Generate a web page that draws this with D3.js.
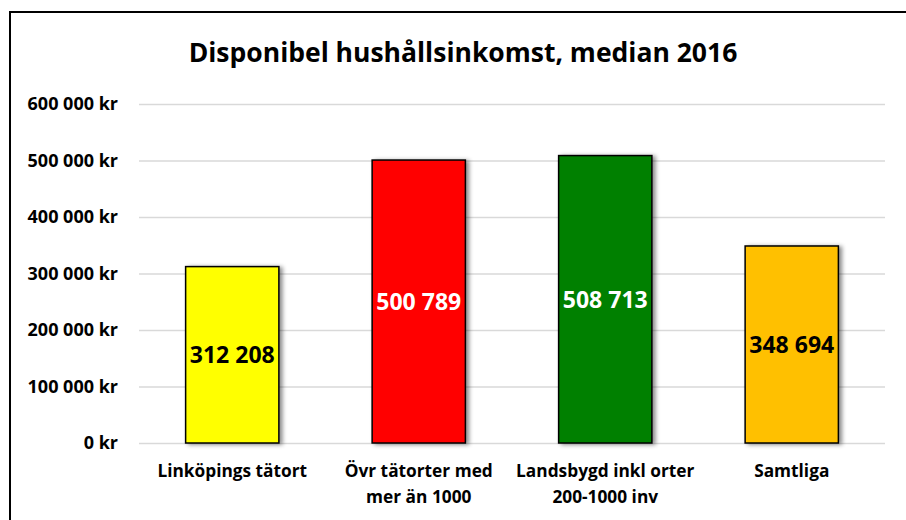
<!DOCTYPE html>
<html>
<head>
<meta charset="utf-8">
<script src="https://cdn.jsdelivr.net/npm/d3@7"></script>
<style>
  body { margin: 0; background: #fff; }
  svg { display: block; font-family: 'Open Sans', sans-serif; font-weight: bold; }
</style>
</head>
<body>
<svg id="chart"></svg>
<script>
const TITLE = 'Disponibel hushållsinkomst, median 2016'
const CATEGORIES = [
    ['Linköpings tätort'],
    ['Övr tätorter med', 'mer än 1000'],
    ['Landsbygd inkl orter', '200-1000 inv'],
    ['Samtliga']
]
const VALUES = [312208, 500789, 508713, 348694]
const BAR_COLORS = ['#ffff00', '#ff0000', '#008000', '#ffc000']
const LABEL_COLORS = ['#000', '#fff', '#fff', '#000']
const TICKS = [0, 100000, 200000, 300000, 400000, 500000, 600000]

const width = 906
const height = 520
const margin = { top: 104, right: 21, bottom: 77, left: 139 }

const fmt = v => d3.format(',')(v).replace(/,/g, ' ')

const svg = d3.select('#chart')
    .attr('width', width)
    .attr('height', height)

const defs = svg.append('defs')
const shadow = defs.append('filter')
    .attr('id', 'shadow')
    .attr('x', '-20%').attr('y', '-20%')
    .attr('width', '140%').attr('height', '140%')
shadow.append('feDropShadow')
    .attr('dx', 3)
    .attr('dy', 1)
    .attr('stdDeviation', 2)
    .attr('flood-color', '#000')
    .attr('flood-opacity', 0.45)

// chart frame, runs off the right and bottom edge like the original
svg.append('rect')
    .attr('x', 10)
    .attr('y', 12)
    .attr('width', 1000)
    .attr('height', 700)
    .attr('fill', 'none')
    .attr('stroke', '#000')
    .attr('stroke-width', 2)

svg.append('text')
    .attr('x', 463)
    .attr('y', 62)
    .attr('text-anchor', 'middle')
    .style('font-size', '26.5px')
    .text(TITLE)

const x = d3.scaleBand()
    .domain(d3.range(VALUES.length))
    .range([margin.left, width - margin.right])
    .paddingInner(0.5)
    .paddingOuter(0.25)

const y = d3.scaleLinear()
    .domain([0, 600000])
    .range([height - margin.bottom, margin.top])

// grid lines
const yAxis = svg.append('g')
    .attr('transform', `translate(${margin.left},0)`)
    .call(d3.axisLeft(y)
        .tickValues(TICKS)
        .tickSize(-(width - margin.left - margin.right))
        .tickPadding(21)
        .tickFormat(d => `${fmt(d)} kr`))
yAxis.select('.domain').remove()
yAxis.selectAll('line')
    .attr('stroke', '#d9d9d9')
    .attr('stroke-width', 1.5)
yAxis.selectAll('text')
    .attr('fill', '#000')
    .style('font-size', '18px')
    .style('font-family', "'Open Sans', sans-serif")
    .style('font-weight', 'bold')

const bars = svg.append('g')
bars.selectAll('rect')
    .data(VALUES)
    .enter().append('rect')
    .attr('x', (d, i) => x(i))
    .attr('y', d => y(d))
    .attr('width', x.bandwidth())
    .attr('height', d => y(0) - y(d))
    .attr('fill', (d, i) => BAR_COLORS[i])
    .attr('stroke', '#000')
    .attr('stroke-width', 1.5)
    .attr('filter', 'url(#shadow)')

svg.append('g').selectAll('text')
    .data(VALUES)
    .enter().append('text')
    .attr('x', (d, i) => x(i) + x.bandwidth() / 2)
    .attr('y', d => (y(d) + y(0)) / 2)
    .attr('dy', '0.36em')
    .attr('text-anchor', 'middle')
    .attr('fill', (d, i) => LABEL_COLORS[i])
    .style('font-size', '23px')
    .text(d => fmt(d))

const catLabels = svg.append('g').selectAll('text')
    .data(CATEGORIES)
    .enter().append('text')
    .attr('x', (d, i) => x(i) + x.bandwidth() / 2)
    .attr('y', 477)
    .attr('text-anchor', 'middle')
    .style('font-size', '17.3px')

catLabels.selectAll('tspan')
    .data(d => d)
    .enter().append('tspan')
    .attr('x', function () { return this.parentNode.getAttribute('x') })
    .attr('dy', (d, i) => i === 0 ? 0 : 26)
    .text(d => d)
</script>
</body>
</html>
